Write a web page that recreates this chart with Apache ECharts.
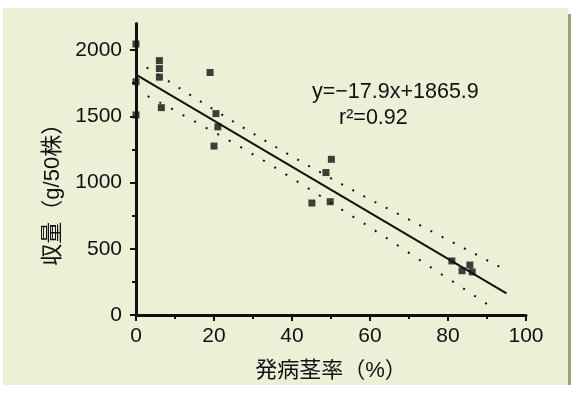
<!DOCTYPE html>
<html>
<head>
<meta charset="utf-8">
<script src="https://cdn.jsdelivr.net/npm/echarts@6/dist/echarts.min.js"></script>
<style>
html,body{margin:0;padding:0;background:#ffffff;}
#c{width:571px;height:394px;}
</style>
</head>
<body>
<div id="c"></div>
<script>
// Observed points
var xValues = [0, 0, 0, 6, 6, 6, 6.5, 19, 20.5, 21, 20, 45.1, 48.7, 50.1, 49.8, 81, 83.6, 85.6, 86.2];
var yValues = [2045, 1760, 1510, 1920, 1860, 1795, 1565, 1830, 1520, 1420, 1275, 845, 1075, 1175, 855, 408, 334, 377, 325];
// Regression line as drawn
var regX = [0, 95];
var regY = [1814, 164];
// Confidence bands (dotted)
var upperX = [0, 8.8, 17.3, 25.9, 34.2, 42.8, 51.3, 59.8, 68.4, 76.9, 85.5, 94];
var upperY = [1919, 1756, 1598, 1442, 1296, 1150, 1011, 875, 745, 614, 483, 352];
var lowerX = [0, 8.8, 17.3, 25.9, 34.2, 42.8, 51.3, 60, 68.4, 76.9, 85.5, 91.2];
var lowerY = [1698, 1562, 1424, 1283, 1140, 981, 823, 662, 500, 334, 171, 58];
// Ticks
var yMajorTicks = [0, 500, 1000, 1500, 2000];
var yMinorTicks = [250, 750, 1250, 1750];
var xTicks = [0, 20, 40, 60, 80, 100];
var xTitle = '発病茎率（%）';
var yTitle = '収量（g/50株）';
var eqText = 'y=\u221217.9x+1865.9';
var r2Text = 'r\u00b2=0.92';

function pairs(xs, ys){ return xs.map(function(x,i){ return [x, ys[i]]; }); }

var ink = '#111111';
var font = "'Liberation Sans', 'Noto Sans CJK JP', sans-serif";

var chart = echarts.init(document.getElementById('c'), null, {renderer:'canvas'});
chart.setOption({
  backgroundColor: '#ffffff',
  animation: false,
  textStyle: {fontFamily: font},
  graphic: [
    {type:'rect', z:-10, shape:{x:3, y:8, width:565, height:377}, style:{fill:'#edf0d7'}},
    {type:'rect', z:-10, shape:{x:568, y:14, width:3, height:371}, style:{fill:'#97a47a'}},
    {type:'text', z:10, left:312, top:81, style:{text:eqText, fontSize:21.5, fontFamily:font, fill:ink}},
    {type:'text', z:10, left:339, top:107, style:{text:r2Text, fontSize:21.5, fontFamily:font, fill:ink}}
  ],
  grid: {left:136, right:45, top:23.5, bottom:79},
  xAxis: {
    type:'value', min:0, max:100, interval:20,
    name: xTitle, nameLocation:'middle', nameGap:45,
    nameTextStyle:{fontSize:22, color:ink, fontFamily:font},
    axisLine:{show:true, onZero:false, lineStyle:{color:ink, width:3}},
    axisTick:{show:true, length:6, lineStyle:{color:ink, width:2}, customValues: xTicks},
    minorTick:{show:true, splitNumber:2, length:4, lineStyle:{color:ink, width:2}},
    axisLabel:{fontSize:21, color:ink, margin:11, fontFamily:font, customValues: xTicks,
      formatter:function(v){ return String(v); }},
    splitLine:{show:false}, minorSplitLine:{show:false}
  },
  yAxis: [{
    type:'value', min:0, max:2200,
    name: yTitle, nameLocation:'middle', nameGap:72,
    nameTextStyle:{fontSize:22, color:ink, fontFamily:font, padding:[0,40,0,0]},
    axisLine:{show:true, onZero:false, lineStyle:{color:ink, width:3}},
    axisTick:{show:true, length:6, lineStyle:{color:ink, width:2}, customValues: yMajorTicks},
    axisLabel:{fontSize:21, color:ink, margin:14, fontFamily:font, customValues: yMajorTicks,
      formatter:function(v){ return String(v); }},
    splitLine:{show:false}
  },{
    type:'value', min:0, max:2200, position:'left',
    axisLine:{show:false},
    axisTick:{show:true, length:4, lineStyle:{color:ink, width:2}, customValues: yMinorTicks},
    axisLabel:{show:false},
    splitLine:{show:false}
  }],
  series: [
    {type:'line', data: pairs(upperX, upperY), showSymbol:false, symbol:'none', z:3,
     lineStyle:{color:ink, width:2, type:[2, 10.6], cap:'butt'}},
    {type:'line', data: pairs(lowerX, lowerY), showSymbol:false, symbol:'none', z:3,
     lineStyle:{color:ink, width:2, type:[2, 11.2], cap:'butt'}},
    {type:'line', data: pairs(regX, regY), showSymbol:false, symbol:'none', z:4,
     lineStyle:{color:ink, width:2}},
    {type:'scatter', data: pairs(xValues, yValues), symbol:'rect', symbolSize:7, z:5,
     itemStyle:{color:ink}}
  ]
});
</script>
</body>
</html>
